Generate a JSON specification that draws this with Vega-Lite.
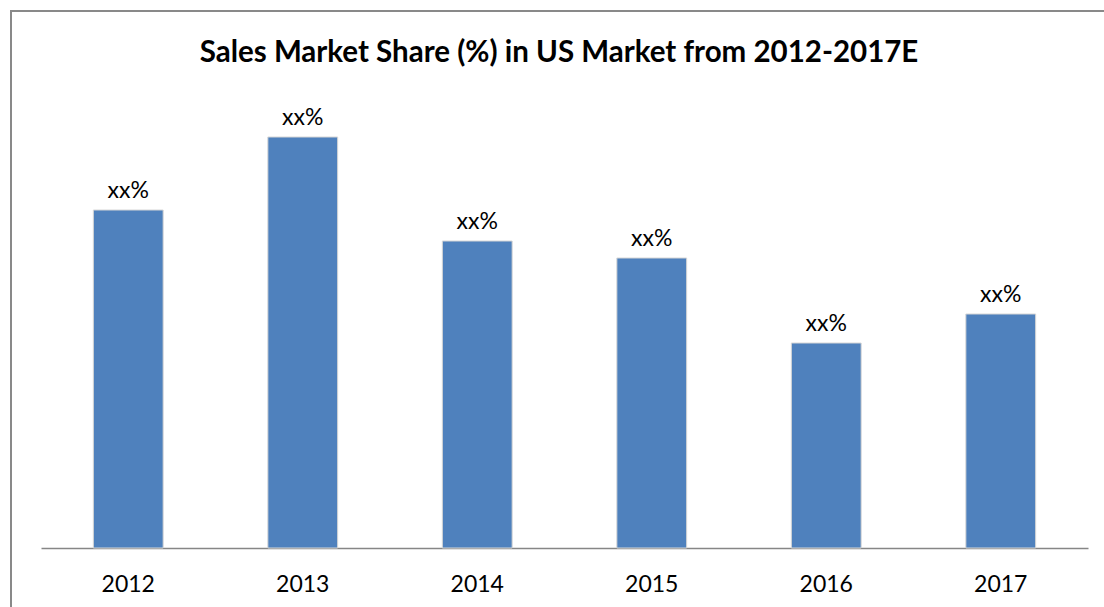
{
  "$schema": "https://vega.github.io/schema/vega-lite/v6.json",
  "width": 1096,
  "height": 600,
  "autosize": {"type": "none"},
  "padding": {"left": 11, "top": 11, "right": 0, "bottom": 0},
  "background": "white",
  "title": {
    "text": "Sales Market Share (%) in US Market from 2012-2017E",
    "font": "Lato",
    "fontSize": 29.5,
    "fontWeight": "bold",
    "color": "black",
    "anchor": "middle",
    "frame": "group",
    "baseline": "alphabetic",
    "offset": -80
  },
  "config": {
    "view": {"stroke": "#898989", "strokeWidth": 2}
  },
  "data": {
    "values": [
      {"year": "2012", "share": 33.8, "label": "xx%"},
      {"year": "2013", "share": 41.1, "label": "xx%"},
      {"year": "2014", "share": 30.7, "label": "xx%"},
      {"year": "2015", "share": 29.0, "label": "xx%"},
      {"year": "2016", "share": 20.5, "label": "xx%"},
      {"year": "2017", "share": 23.4, "label": "xx%"}
    ]
  },
  "encoding": {
    "x": {
      "field": "year",
      "type": "ordinal",
      "scale": {"range": [30, 1077], "paddingInner": 0.6, "paddingOuter": 0.3},
      "axis": {
        "title": null,
        "orient": "bottom",
        "offset": -63,
        "domainColor": "#868686",
        "domainWidth": 1.5,
        "ticks": false,
        "grid": false,
        "labelAngle": 0,
        "labelFont": "Lato",
        "labelFontSize": 23,
        "labelColor": "black",
        "labelBaseline": "alphabetic",
        "labelPadding": 43
      }
    },
    "y": {
      "field": "share",
      "type": "quantitative",
      "scale": {"domain": [0, 45], "range": [537, 87], "nice": false, "zero": true},
      "axis": null
    }
  },
  "layer": [
    {
      "mark": {"type": "bar", "color": "#4F81BD", "stroke": "#d6d6d6", "strokeWidth": 1}
    },
    {
      "mark": {"type": "text", "font": "Lato", "fontSize": 23, "color": "black", "baseline": "alphabetic", "dy": -12},
      "encoding": {"text": {"field": "label"}}
    }
  ]
}
